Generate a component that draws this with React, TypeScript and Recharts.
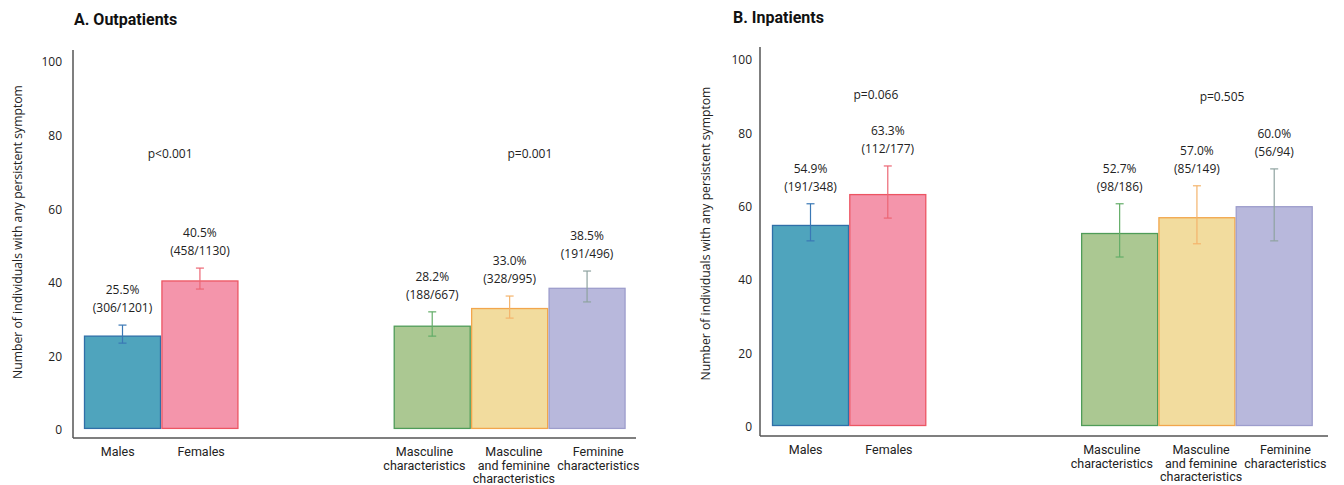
import { Bar, BarChart, Cell, ReferenceDot, XAxis, YAxis } from "recharts";

// shared categories (two blank slots make the gap between the groups)
const categories = [
  "Males",
  "Females",
  "gap1",
  "gap2",
  "Masculine characteristics",
  "Masculine and feminine characteristics",
  "Feminine characteristics",
];
const tickLines = [
  ["Males"],
  ["Females"],
  [],
  [],
  ["Masculine", "characteristics"],
  ["Masculine", "and feminine", "characteristics"],
  ["Feminine", "characteristics"],
];
const yTicks = [0, 20, 40, 60, 80, 100];

// A. Outpatients
const outValues = [25.5, 40.5, null, null, 28.2, 33.0, 38.5];
const outLow = [23.6, 38.3, null, null, 25.5, 30.4, 34.8];
const outHigh = [28.5, 44.0, null, null, 32.1, 36.4, 43.2];
const outCounts = ["306/1201", "458/1130", "", "", "188/667", "328/995", "191/496"];
const outP = ["p<0.001", "p=0.001"];
const outPAt = [75, 75];

// B. Inpatients
const inValues = [54.9, 63.3, null, null, 52.7, 57.0, 60.0];
const inLow = [50.7, 56.9, null, null, 46.3, 49.9, 50.7];
const inHigh = [60.8, 71.1, null, null, 60.8, 65.7, 70.3];
const inCounts = ["191/348", "112/177", "", "", "98/186", "85/149", "56/94"];
const inP = ["p=0.066", "p=0.505"];
const inPAt = [90.5, 90];

const fills = ["#4fa4bd", "#f495ab", "#fff", "#fff", "#abc892", "#f2dc9e", "#b8b8dc"];
const strokes = ["#2f6fa8", "#ec5563", "#fff", "#fff", "#4f9c58", "#f2a64c", "#9d9dcc"];
const errColors = ["#3a78b5", "#ec6674", "#fff", "#fff", "#63ad68", "#f4b46c", "#8fa3a0"];
// tick labels sit a little wider apart than the bars
const tickShift = [-5, 1, 0, 0, -8, 4, 11];

const TEXT = "#222";
const LABEL_FONT = "'Open Sans', sans-serif";
const TICK_FONT = "Roboto, sans-serif";
const Y_TITLE = "Number of individuals with any persistent symptom";

interface PanelProps {
  title: string;
  values: (number | null)[];
  low: (number | null)[];
  high: (number | null)[];
  counts: string[];
  pLabels: string[];
  pAt: number[];
  left: number;
  yAxisWidth: number;
  marginTop: number;
  marginRight: number;
  xAxisHeight: number;
  domain: [number, number];
  padLeft: number;
  padRight: number;
  tickMargin: number;
  labelX: number;
  labelDy: number;
  titleX: number;
  titleY: number;
  pDx: [number, number];
}

function Panel(p: PanelProps) {
  const rows = categories.map((name, i) => ({
    name,
    value: p.values[i],
    low: p.low[i],
    high: p.high[i],
    count: p.counts[i],
  }));

  const renderShape = (props: any) => {
    const { x, y, width, height, payload } = props;
    const index = categories.indexOf(payload?.name);
    const row = rows[index];
    if (!row || row.value == null || !height) return <g />;
    const pxPerUnit = height / row.value;
    const base = y + height;
    const cx = x + width / 2;
    const yHi = base - (row.high as number) * pxPerUnit;
    const yLo = base - (row.low as number) * pxPerUnit;
    const c = errColors[index];
    return (
      <g>
        <rect
          x={x + 0.5}
          y={y}
          width={width - 1}
          height={height - 1.5}
          fill={fills[index]}
          stroke={strokes[index]}
          strokeWidth={1.3}
        />
        <line x1={cx} x2={cx} y1={yHi} y2={yLo} stroke={c} strokeWidth={1.2} />
        <line x1={cx - 4} x2={cx + 4} y1={yHi} y2={yHi} stroke={c} strokeWidth={1.2} />
        <line x1={cx - 4} x2={cx + 4} y1={yLo} y2={yLo} stroke={c} strokeWidth={1.2} />
        <text x={cx} y={yHi - 31} textAnchor="middle" fontFamily={LABEL_FONT} fontSize={12} fill={TEXT}>
          {row.value.toFixed(1)}%
        </text>
        <text x={cx} y={yHi - 13} textAnchor="middle" fontFamily={LABEL_FONT} fontSize={12} fill={TEXT}>
          ({row.count})
        </text>
      </g>
    );
  };

  const renderTick = (props: any) => {
    const { x, y, payload } = props;
    const idx = payload.index;
    const lines = tickLines[idx] || [];
    return (
      <g>
        {lines.map((l, k) => (
          <text
            key={k}
            x={x + tickShift[idx]}
            y={y + 18 + k * 13.5}
            textAnchor="middle"
            fontFamily={TICK_FONT}
            fontSize={12.5}
            fill={TEXT}
          >
            {l}
          </text>
        ))}
      </g>
    );
  };

  const renderYTitle = (props: any) => {
    const vb = props.viewBox || {};
    const x = p.labelX;
    const y = vb.y + vb.height / 2 + p.labelDy;
    return (
      <text
        x={x}
        y={y}
        transform={`rotate(-90, ${x}, ${y})`}
        textAnchor="middle"
        fontFamily={LABEL_FONT}
        fontSize={12.2}
        fill={TEXT}
      >
        {Y_TITLE}
      </text>
    );
  };

  const pLabel = (text: string, dx: number) => (props: any) => {
    const vb = props.viewBox || {};
    const cx = vb.x + (vb.width || 0) / 2;
    const cy = vb.y + (vb.height || 0) / 2;
    return (
      <text x={cx + dx} y={cy + 4} textAnchor="middle" fontFamily={LABEL_FONT} fontSize={12} fill={TEXT}>
        {text}
      </text>
    );
  };

  return (
    <div style={{ position: "absolute", left: p.left, top: 0, width: 672, height: 485 }}>
      <div
        style={{
          position: "absolute",
          left: p.titleX,
          top: p.titleY,
          fontFamily: "Roboto, sans-serif",
          fontWeight: 700,
          fontSize: 16,
          color: "#111",
          whiteSpace: "nowrap",
        }}
      >
        {p.title}
      </div>
      <BarChart
        width={672}
        height={485}
        data={rows}
        margin={{ top: p.marginTop, right: p.marginRight, bottom: 0, left: 0 }}
        barCategoryGap={0}
      >
        <XAxis
          dataKey="name"
          type="category"
          height={p.xAxisHeight}
          interval={0}
          tickLine={false}
          tickSize={0}
          tickMargin={0}
          axisLine={{ stroke: "#555", strokeWidth: 1.5 }}
          padding={{ left: p.padLeft, right: p.padRight }}
          tick={renderTick}
        />
        <YAxis
          type="number"
          domain={p.domain}
          ticks={yTicks}
          width={p.yAxisWidth}
          tickLine={false}
          tickSize={0}
          tickMargin={p.tickMargin}
          axisLine={{ stroke: "#555", strokeWidth: 1.5 }}
          tick={{ fill: TEXT, fontSize: 12, fontFamily: LABEL_FONT }}
          label={{ content: renderYTitle }}
        />
        <Bar dataKey="value" isAnimationActive={false} shape={renderShape}>
          {rows.map((r, i) => (
            <Cell key={r.name} fill={fills[i]} />
          ))}
        </Bar>
        <ReferenceDot
          x={categories[1]}
          y={p.pAt[0]}
          r={1}
          fill="none"
          stroke="none"
          label={{ content: pLabel(p.pLabels[0], p.pDx[0]) }}
        />
        <ReferenceDot
          x={categories[5]}
          y={p.pAt[1]}
          r={1}
          fill="none"
          stroke="none"
          label={{ content: pLabel(p.pLabels[1], p.pDx[1]) }}
        />
      </BarChart>
    </div>
  );
}

export default function App() {
  return (
    <div style={{ position: "absolute", left: 0, top: 0, width: 1344, height: 485, background: "#fff" }}>
      <Panel
        title="A. Outpatients"
        values={outValues}
        low={outLow}
        high={outHigh}
        counts={outCounts}
        pLabels={outP}
        pAt={outPAt}
        left={0}
        yAxisWidth={73}
        marginTop={50}
        marginRight={36}
        xAxisHeight={47}
        domain={[-2.2, 103.3]}
        padLeft={11}
        padRight={10}
        tickMargin={11}
        labelX={22}
        labelDy={-12}
        titleX={74}
        titleY={10}
        pDx={[-30, 20]}
      />
      <Panel
        title="B. Inpatients"
        values={inValues}
        low={inLow}
        high={inHigh}
        counts={inCounts}
        pLabels={inP}
        pAt={inPAt}
        left={672}
        yAxisWidth={88}
        marginTop={47}
        marginRight={16}
        xAxisHeight={49}
        domain={[-2.45, 103.5]}
        padLeft={12}
        padRight={15}
        tickMargin={8}
        labelX={38}
        labelDy={-8}
        titleX={61}
        titleY={8}
        pDx={[-12, 25]}
      />
    </div>
  );
}
